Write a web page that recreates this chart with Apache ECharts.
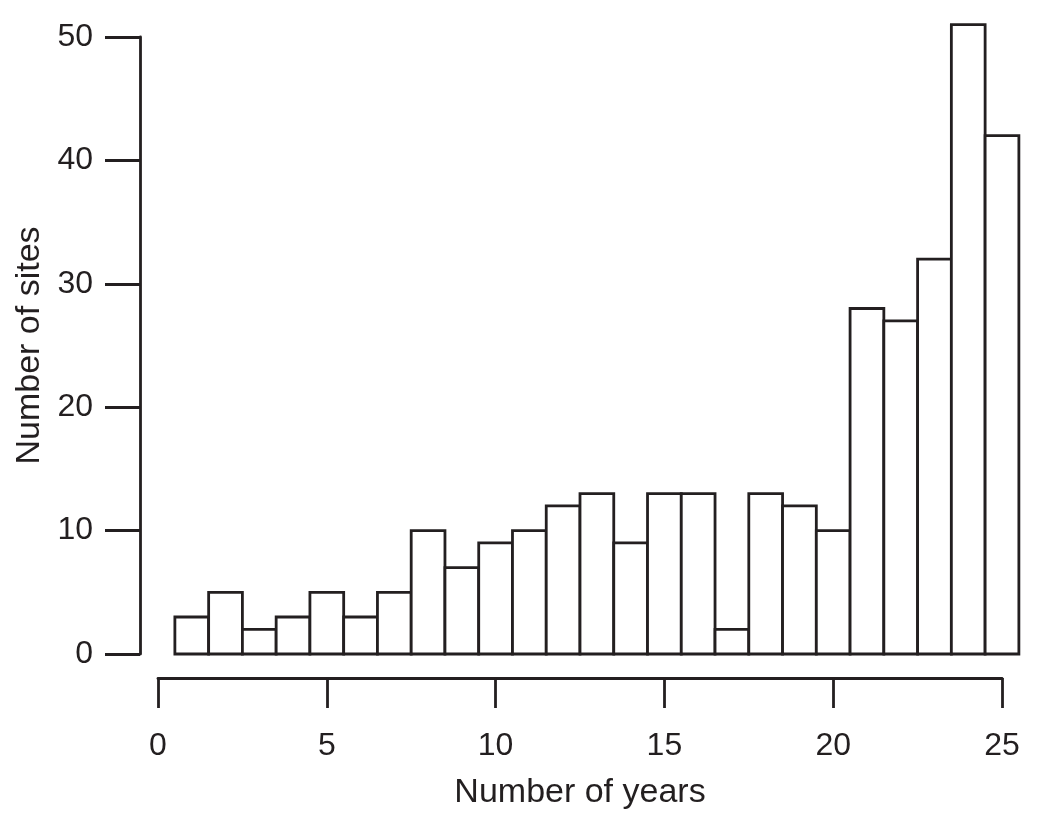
<!DOCTYPE html>
<html>
<head>
<meta charset="utf-8">
<script src="https://cdn.jsdelivr.net/npm/echarts@6/dist/echarts.min.js"></script>
<style>html,body{margin:0;padding:0;background:#fff}#c{width:1050px;height:816px}</style>
</head>
<body>
<div id="c"></div>
<script>
const years = [1,2,3,4,5,6,7,8,9,10,11,12,13,14,15,16,17,18,19,20,21,22,23,24,25];
const sites = [3,5,2,3,5,3,5,10,7,9,10,12,13,9,13,13,2,13,12,10,28,27,32,51,42];
const xTicks = [0,5,10,15,20,25];
const yTicks = [0,10,20,30,40,50];

const ink = '#231f20';
const font = '"Liberation Sans", Arial, sans-serif';
const chart = echarts.init(document.getElementById('c'), null, {renderer:'canvas'});
chart.setOption({
  animation: false,
  backgroundColor: '#fff',
  grid: {left: 158, right: 48, top: 37, bottom: 162},
  xAxis: {
    type: 'value', min: 0, max: 25, interval: 5, offset: 24,
    splitLine: {show: false},
    axisLine: {show: true, onZero: false, lineStyle: {color: ink, width: 2.8}},
    axisTick: {show: true, length: 30, lineStyle: {color: ink, width: 2.8}},
    axisLabel: {color: ink, fontSize: 32, fontFamily: font, margin: 52,
      formatter: v => xTicks.includes(v) ? String(v) : ''},
    name: 'Number of years', nameLocation: 'middle', nameGap: 98,
    nameTextStyle: {color: ink, fontSize: 34, fontFamily: font}
  },
  yAxis: {
    type: 'value', min: 0, max: 50, interval: 10, offset: 18,
    splitLine: {show: false},
    axisLine: {show: true, onZero: false, lineStyle: {color: ink, width: 2.8}},
    axisTick: {show: true, length: 35, lineStyle: {color: ink, width: 2.8}},
    axisLabel: {color: ink, fontSize: 32, fontFamily: font, margin: 47,
      formatter: v => yTicks.includes(v) ? String(v) : ''},
    name: 'Number of sites', nameLocation: 'middle', nameGap: 86,
    nameTextStyle: {color: ink, fontSize: 34, fontFamily: font}
  },
  series: [{
    type: 'custom',
    clip: false,
    data: years.map((y, i) => [y, sites[i]]),
    encode: {x: 0, y: 1},
    renderItem: function (params, api) {
      const x = api.value(0), v = api.value(1);
      const p0 = api.coord([x - 0.5, v]);
      const p1 = api.coord([x + 0.5, 0]);
      return {
        type: 'rect',
        shape: {x: p0[0], y: p0[1], width: p1[0] - p0[0], height: p1[1] - p0[1]},
        style: {fill: '#fff', stroke: ink, lineWidth: 2.8}
      };
    }
  }]
});
</script>
</body>
</html>
